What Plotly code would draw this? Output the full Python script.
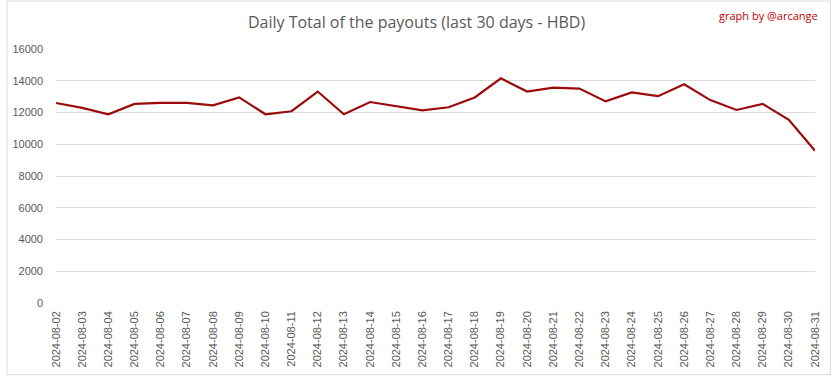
import plotly.graph_objects as go

dates = [f"2024-08-{d:02d}" for d in range(2, 32)]
payouts = [12600, 12290, 11890, 12540, 12600, 12600, 12450, 12950, 11890, 12080,
           13320, 11890, 12660, 12390, 12140, 12330, 12950, 14150, 13320, 13570,
           13510, 12700, 13260, 13030, 13780, 12780, 12160, 12540, 11540, 9590]
y_ticks = [0, 2000, 4000, 6000, 8000, 10000, 12000, 14000, 16000]

W, H = 833, 379
ml, mr, mt, mb = 50, 16, 49, 73

fig = go.Figure(go.Scatter(
    x=dates, y=payouts, mode="lines",
    line=dict(color="#9c0a0a", width=2.2),
    hoverinfo="x+y",
))

fig.update_layout(
    width=W, height=H,
    margin=dict(l=ml, r=mr, t=mt, b=mb),
    paper_bgcolor="white", plot_bgcolor="white",
    showlegend=False,
    title=dict(text="Daily Total of the payouts (last 30 days - HBD)",
               x=0.5, xanchor="center", y=1 - 22 / H, yanchor="middle",
               font=dict(family="Open Sans, sans-serif", size=16, color="#595959")),
    font=dict(family="Liberation Sans, Arial, sans-serif", size=11, color="#595959"),
    xaxis=dict(type="category", tickangle=-90, showgrid=False, showline=False,
               zeroline=False, ticks="", tickfont=dict(size=11, color="#595959"),
               ticklabelstandoff=5),
    yaxis=dict(range=[0, 16000], tickvals=y_ticks, ticktext=[str(v) for v in y_ticks],
               showgrid=True, gridcolor="#d9d9d9", gridwidth=1, zeroline=False,
               showline=False, ticks="", tickfont=dict(size=11, color="#595959"),
               ticklabelstandoff=12),
    annotations=[dict(text="graph by @arcange", xref="paper", yref="paper",
                      x=1 + (mr - 11) / (W - ml - mr), xanchor="right",
                      y=1 + (mt - 15) / (H - mt - mb), yanchor="middle",
                      showarrow=False,
                      font=dict(family="Open Sans, sans-serif",
                                size=11, color="#c00000"))],
    shapes=[dict(type="rect", xref="paper", yref="paper",
                 x0=-(ml - 0.5) / (W - ml - mr), x1=1 + (mr - 0.5) / (W - ml - mr),
                 y0=-(mb - 0.5) / (H - mt - mb), y1=1 + (mt - 0.5) / (H - mt - mb),
                 line=dict(color="#d9d9d9", width=1), layer="below")],
)

fig.write_html("out.html", config={"displayModeBar": False},
               post_script="document.body.style.margin='0';")
